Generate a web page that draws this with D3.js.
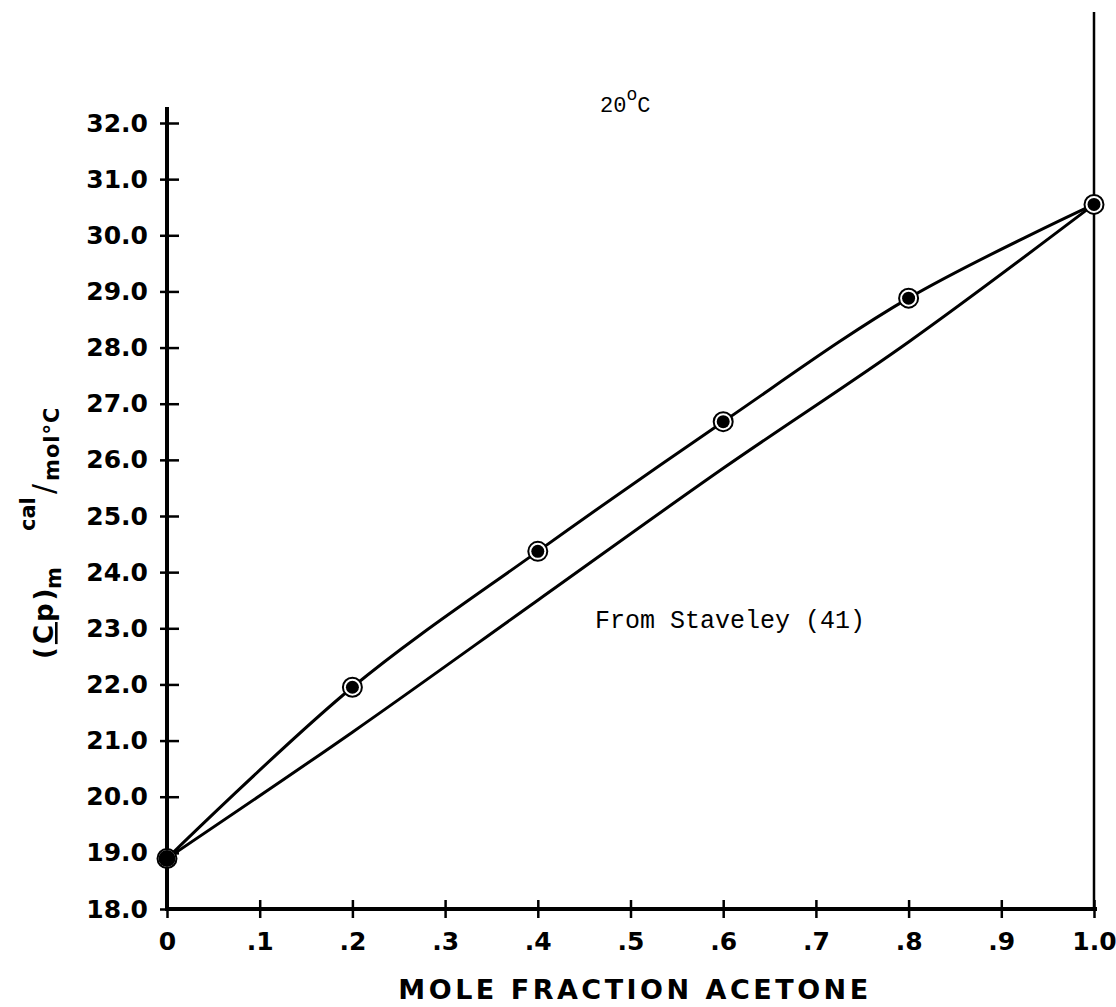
<!DOCTYPE html>
<html>
<head>
<meta charset="utf-8">
<script src="https://cdn.jsdelivr.net/npm/d3@7"></script>
<style>
  body { margin: 0; background: #fff; }
  svg { display: block; }
</style>
</head>
<body>
<svg width="1116" height="1007"></svg>
<script>
// measured heat capacity of mixture (points + curve)
var moleFraction = [0, 0.2, 0.4, 0.6, 0.8, 1.0];
var cpMeasured = [18.9, 21.95, 24.37, 26.68, 28.88, 30.55];

// lower (ideal) line
var idealX = [0, 0.2, 0.4, 0.6, 0.8, 1.0];
var cpIdeal = [18.9, 21.15, 23.5, 25.85, 28.1, 30.55];

var xTicks = [0, 0.1, 0.2, 0.3, 0.4, 0.5, 0.6, 0.7, 0.8, 0.9, 1.0];
var xTickLabels = ["0", ".1", ".2", ".3", ".4", ".5", ".6", ".7", ".8", ".9", "1.0"];
var yTicks = [18, 19, 20, 21, 22, 23, 24, 25, 26, 27, 28, 29, 30, 31, 32];

var svg = d3.select("svg");
var letterFont = "'DejaVu Sans', sans-serif";
var typeFont = "'Liberation Mono', monospace";

var x = d3.scaleLinear().domain([0, 1]).range([167, 1094]);
var y = d3.scaleLinear().domain([18, 32]).range([909, 123]);

// y axis
var yAxis = svg.append("g")
	.attr("transform", "translate(" + x(0) + ",0)")
	.call(d3.axisLeft(y).tickValues(yTicks).tickSize(7).tickPadding(12)
		.tickFormat(d3.format(".1f")));
yAxis.select(".domain").remove();
yAxis.selectAll(".tick line").attr("x1", 12).attr("x2", -7)
	.attr("stroke", "#000").attr("stroke-width", 2.5);
yAxis.selectAll(".tick text")
	.attr("font-family", letterFont).attr("font-weight", "bold")
	.attr("font-size", 25).attr("fill", "#000");

// x axis
var xAxis = svg.append("g")
	.attr("transform", "translate(0," + y(18) + ")")
	.call(d3.axisBottom(x).tickValues(xTicks).tickSize(9).tickPadding(14)
		.tickFormat(function(d, i) { return xTickLabels[i]; }));
xAxis.select(".domain").remove();
xAxis.selectAll(".tick line").attr("y1", -9).attr("y2", 9)
	.attr("stroke", "#000").attr("stroke-width", 2.5);
xAxis.selectAll(".tick text")
	.attr("font-family", letterFont).attr("font-weight", "bold")
	.attr("font-size", 25).attr("fill", "#000");

// axis lines
svg.append("line")
	.attr("x1", x(0)).attr("x2", x(0))
	.attr("y1", y(32) - 16).attr("y2", y(18) + 2)
	.attr("stroke", "#000").attr("stroke-width", 4);
svg.append("line")
	.attr("x1", x(0) - 2).attr("x2", x(1) + 3)
	.attr("y1", y(18)).attr("y2", y(18))
	.attr("stroke", "#000").attr("stroke-width", 4);
// right border line
svg.append("line")
	.attr("x1", x(1)).attr("x2", x(1))
	.attr("y1", 12).attr("y2", y(18))
	.attr("stroke", "#000").attr("stroke-width", 2.5);

// curves
var upper = moleFraction.map(function(d, i) { return [d, cpMeasured[i]]; });
var lower = idealX.map(function(d, i) { return [d, cpIdeal[i]]; });

var line = d3.line()
	.x(function(d) { return x(d[0]); })
	.y(function(d) { return y(d[1]); })
	.curve(d3.curveCatmullRom.alpha(0.5));

svg.append("path").datum(upper)
	.attr("d", line).attr("fill", "none")
	.attr("stroke", "#000").attr("stroke-width", 3);
svg.append("path").datum(lower)
	.attr("d", line).attr("fill", "none")
	.attr("stroke", "#000").attr("stroke-width", 3);

// data points: ring with filled centre
var pts = svg.append("g");
pts.selectAll(".ring")
	.data(upper)
	.enter().append("circle")
	.attr("class", "ring")
	.attr("cx", function(d) { return x(d[0]); })
	.attr("cy", function(d) { return y(d[1]); })
	.attr("r", 9.5)
	.attr("fill", "#fff")
	.attr("stroke", "#000").attr("stroke-width", 2);
pts.selectAll(".dot")
	.data(upper)
	.enter().append("circle")
	.attr("class", "dot")
	.attr("cx", function(d) { return x(d[0]); })
	.attr("cy", function(d) { return y(d[1]); })
	.attr("r", function(d, i) { return i === 0 ? 8.5 : 6.5; })
	.attr("fill", "#000");

// annotations
var t = svg.append("text")
	.attr("x", 600).attr("y", 112)
	.attr("font-family", typeFont).attr("font-size", 22).attr("fill", "#000");
t.append("tspan").text("20");
t.append("tspan").attr("dy", -12).attr("font-size", 18).text("o");
t.append("tspan").attr("dy", 12).text("C");

svg.append("text")
	.attr("x", 595).attr("y", 628)
	.attr("font-family", typeFont).attr("font-size", 25).attr("fill", "#000")
	.text("From Staveley (41)");

// x axis title
svg.append("text")
	.attr("x", 635).attr("y", 999)
	.attr("text-anchor", "middle")
	.attr("font-family", letterFont).attr("font-weight", "bold")
	.attr("font-size", 27).attr("letter-spacing", 3.5).attr("fill", "#000")
	.text("MOLE FRACTION  ACETONE");

// y axis title, rotated (u = -screenY, v = screenX)
var yl = svg.append("g").attr("transform", "rotate(-90)")
	.attr("font-family", letterFont).attr("font-weight", "bold").attr("fill", "#000");
var cp = yl.append("text").attr("x", -659).attr("y", 53)
	.attr("font-size", 26).attr("letter-spacing", 3);
cp.append("tspan").text("(");
cp.append("tspan").attr("text-decoration", "underline").text("C");
cp.append("tspan").text("p)");
yl.append("text").attr("x", -589).attr("y", 61)
	.attr("font-size", 21).text("m");
yl.append("text").attr("x", -531).attr("y", 35)
	.attr("font-size", 21).text("cal");
yl.append("text").attr("x", -494).attr("y", 54)
	.attr("font-size", 30).attr("font-weight", "normal").text("/");
yl.append("text").attr("x", -481).attr("y", 59)
	.attr("font-size", 21).attr("letter-spacing", 1).text("mol\u00b0C");
</script>
</body>
</html>
